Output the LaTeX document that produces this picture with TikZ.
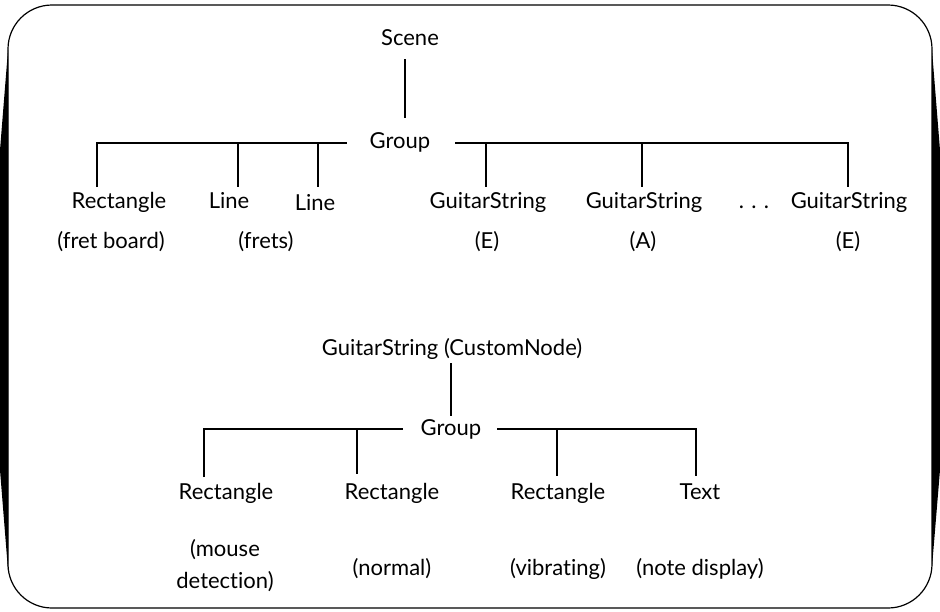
\documentclass[tikz,border=0pt]{standalone}
\usepackage{fontspec}
\setmainfont{Lato}[Ligatures={NoCommon,NoRare}]
\begin{document}
\begin{tikzpicture}[x=1pt,y=-1pt,
  lbl/.style={font=\fontsize{22}{26}\selectfont, anchor=base, inner sep=0pt},
  conn/.style={line width=1.1pt}]
\useasboundingbox (0,0) rectangle (940,611);
% frame
\draw[line width=1.2pt, rounded corners=44pt] (8,5) rectangle (932,608);
\fill (8,50) -- (0,150) -- (0,470) -- (8,570) -- cycle;
\fill (932,50) -- (940,150) -- (940,470) -- (932,567) -- cycle;

% ---------- top tree ----------
\node[lbl] (scene) at (410,45) {Scene};
\node[lbl] (grpA) at (400,148) {Group};
\node[lbl] (rectA) at (119,208) {Rectangle};
\node[lbl] (lineA) at (229,208) {Line};
\node[lbl] (lineB) at (315,210) {Line};
\node[lbl] (gsA) at (488,208) {GuitarString};
\node[lbl] (gsB) at (644,208) {GuitarString};
\node[lbl] (dots) at (754,208) {.\,\,.\,\,.};
\node[lbl] (gsC) at (849,208) {GuitarString};
\node[lbl] (fb) at (111,248) {(fret board)};
\node[lbl] (fr) at (266,248) {(frets)};
\node[lbl] (eA) at (487,248) {(E)};
\node[lbl] (aA) at (643,248) {(A)};
\node[lbl] (eB) at (848,248) {(E)};

\coordinate (sTop) at (405,59);
\coordinate (sBot) at (405,118);
\coordinate (barL) at (97,143);
\coordinate (barLe) at (347,143);
\coordinate (barRs) at (455,143);
\coordinate (barR) at (848,143);
\coordinate (vA) at (97,187);
\coordinate (hB) at (238,143);  \coordinate (vB) at (238,187);
\coordinate (hC) at (318,143);  \coordinate (vC) at (318,187);
\coordinate (hD) at (486,143);  \coordinate (vD) at (486,187);
\coordinate (hE) at (642,143);  \coordinate (vE) at (642,187);
\coordinate (vF) at (848,187);

\draw[conn] (sTop) -- (sBot);
\draw[conn] (vA) -- (barL) -- (barLe);
\draw[conn] (barRs) -- (barR) -- (vF);
\draw[conn] (hB) -- (vB);
\draw[conn] (hC) -- (vC);
\draw[conn] (hD) -- (vD);
\draw[conn] (hE) -- (vE);

% ---------- bottom tree ----------
\node[lbl] (gsN) at (452,355) {GuitarString (CustomNode)};
\node[lbl] (grpB) at (451,435) {Group};
\node[lbl] (r1) at (226,499) {Rectangle};
\node[lbl] (r2) at (392,499) {Rectangle};
\node[lbl] (r3) at (558,499) {Rectangle};
\node[lbl] (tx) at (700,499) {Text};
\node[lbl] (md1) at (225,556) {(mouse};
\node[lbl] (md2) at (225,588) {detection)};
\node[lbl] (nm) at (392,575) {(normal)};
\node[lbl] (vb) at (558,575) {(vibrating)};
\node[lbl] (nd) at (700,575) {(note display)};

\coordinate (nTop) at (451,363);
\coordinate (nBot) at (451,416);
\coordinate (bL) at (204,429);
\coordinate (bLe) at (403,429);
\coordinate (bRs) at (497,429);
\coordinate (bR) at (696,429);
\coordinate (w1) at (204,477);
\coordinate (h2) at (357,429); \coordinate (w2) at (357,474);
\coordinate (h3) at (557,429); \coordinate (w3) at (557,476);
\coordinate (w4) at (696,476);

\draw[conn] (nTop) -- (nBot);
\draw[conn] (w1) -- (bL) -- (bLe);
\draw[conn] (bRs) -- (bR) -- (w4);
\draw[conn] (h2) -- (w2);
\draw[conn] (h3) -- (w3);
\end{tikzpicture}
\end{document}
